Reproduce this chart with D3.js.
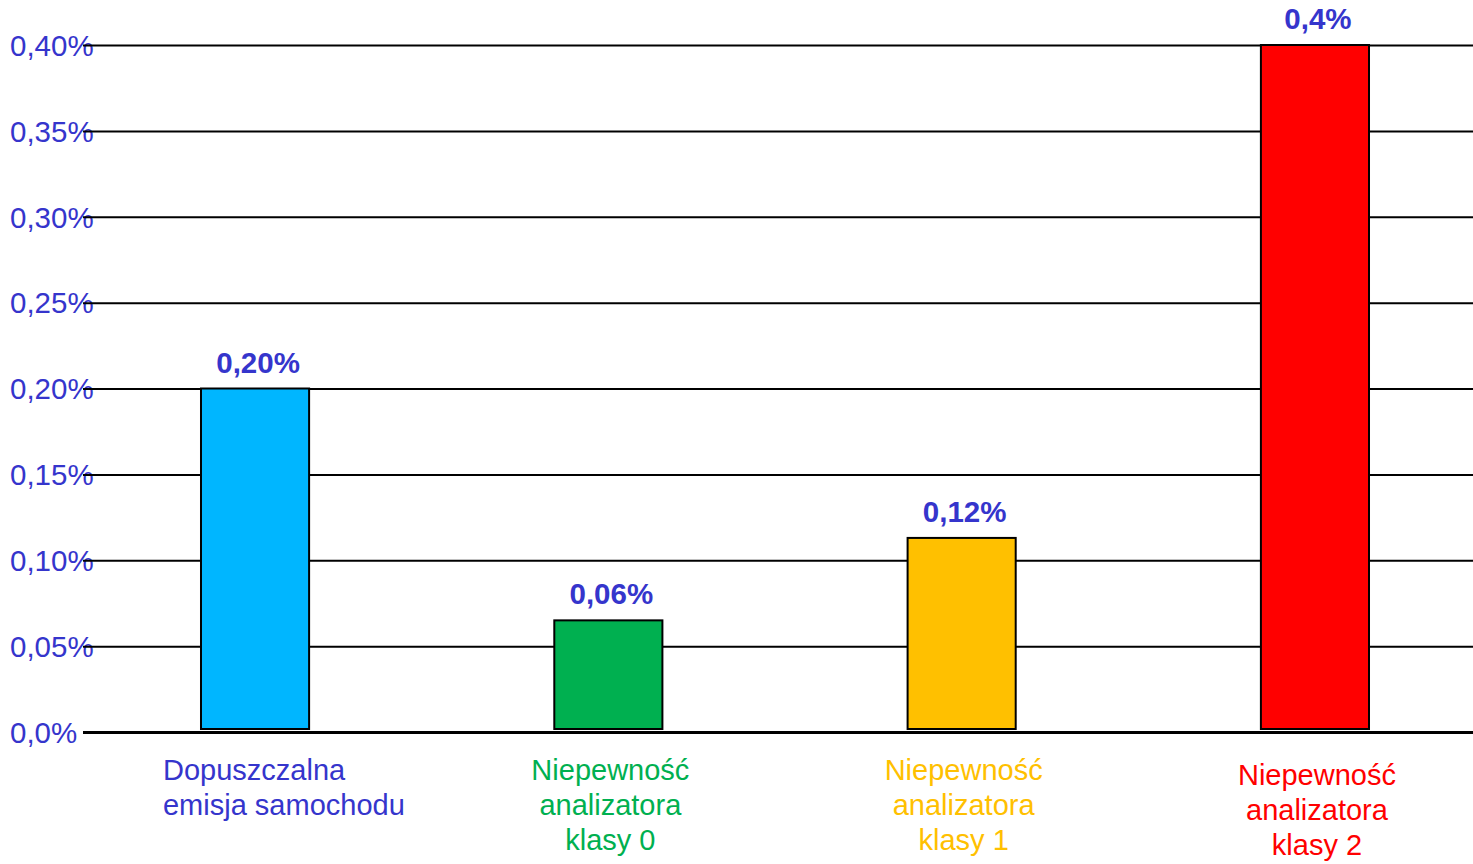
<!DOCTYPE html>
<html>
<head>
<meta charset="utf-8">
<script src="https://cdn.jsdelivr.net/npm/d3@7"></script>
<style>
  html, body { margin: 0; padding: 0; background: #fff; }
  svg { display: block; font-family: Arial, "Liberation Sans", sans-serif; }
</style>
</head>
<body>
<svg id="chart" width="1473" height="864"></svg>
<script>
const width = 1473;
const height = 864;

// data
const categories = ["emisja", "klasa0", "klasa1", "klasa2"];
const categoryLines = [
    ["Dopuszczalna", "emisja samochodu"],
    ["Niepewność", "analizatora", "klasy 0"],
    ["Niepewność", "analizatora", "klasy 1"],
    ["Niepewność", "analizatora", "klasy 2"]
];
const values = [0.2, 0.065, 0.113, 0.4];
const valueLabels = ["0,20%", "0,06%", "0,12%", "0,4%"];
const tickValues = [0, 0.05, 0.1, 0.15, 0.2, 0.25, 0.3, 0.35, 0.4];
const tickLabels = ["0,0%", "0,05%", "0,10%", "0,15%", "0,20%", "0,25%", "0,30%", "0,35%", "0,40%"];
const barColors = ["#00B6FF", "#00B050", "#FFC000", "#FF0000"];
const labelColors = ["#3535CC", "#00B050", "#FFC000", "#FF0000"];

const plotLeft = 83;
const axisBlue = "#3535CC";

const svg = d3.select("#chart");

const x = d3.scaleBand()
    .domain(categories)
    .range([148, 1422])
    .paddingInner(0.694)
    .paddingOuter(0.15);

const y = d3.scaleLinear()
    .domain([0, 0.4])
    .range([732, 45]);

// gridlines + tick labels
const yAxis = svg.append("g")
    .attr("class", "y-axis")
    .attr("transform", `translate(${plotLeft},0)`)
    .call(d3.axisLeft(y)
        .tickValues(tickValues)
        .tickFormat((d, i) => tickLabels[i])
        .tickSize(-(width - plotLeft)));

yAxis.select(".domain").remove();
yAxis.selectAll(".tick line")
    .attr("stroke", "#000")
    .attr("stroke-width", d => d === 0 ? 3 : 2);
yAxis.selectAll(".tick text")
    .attr("x", 10 - plotLeft)
    .attr("dy", "0.35em")
    .attr("text-anchor", "start")
    .attr("font-size", "29.5px")
    .attr("fill", axisBlue);
// lines drawn over the label ends, like the original
yAxis.selectAll(".tick line").raise();

// bars
svg.append("g")
    .selectAll("rect")
    .data(values)
    .join("rect")
    .attr("x", (d, i) => x(categories[i]))
    .attr("width", x.bandwidth())
    .attr("y", d => y(d))
    .attr("height", d => y(0) - y(d) - 3)
    .attr("fill", (d, i) => barColors[i])
    .attr("stroke", "#000")
    .attr("stroke-width", 2);

// value labels
svg.append("g")
    .selectAll("text")
    .data(values)
    .join("text")
    .attr("x", (d, i) => x(categories[i]) + x.bandwidth() / 2 + 3)
    .attr("y", d => y(d) - 16)
    .attr("text-anchor", "middle")
    .attr("font-size", "29.5px")
    .attr("font-weight", "bold")
    .attr("fill", axisBlue)
    .text((d, i) => valueLabels[i]);

// category labels under the bars
const catLabels = svg.append("g")
    .selectAll("text")
    .data(categories)
    .join("text")
    .attr("font-size", "29px")
    .attr("fill", (d, i) => labelColors[i])
    .attr("text-anchor", (d, i) => i === 0 ? "start" : "middle")
    .attr("transform", (d, i) => {
        const cx = x(d) + x.bandwidth() / 2;
        const tx = i === 0 ? x(d) - 38 : cx + 2;
        // the last label box sits a bit lower in the original
        const ty = i === categories.length - 1 ? 785 : 780;
        return `translate(${tx},${ty})`;
    });

catLabels.selectAll("tspan")
    .data((d, i) => categoryLines[i])
    .join("tspan")
    .attr("x", 0)
    .attr("y", (d, j) => j * 35)
    .text(d => d);
</script>
</body>
</html>
